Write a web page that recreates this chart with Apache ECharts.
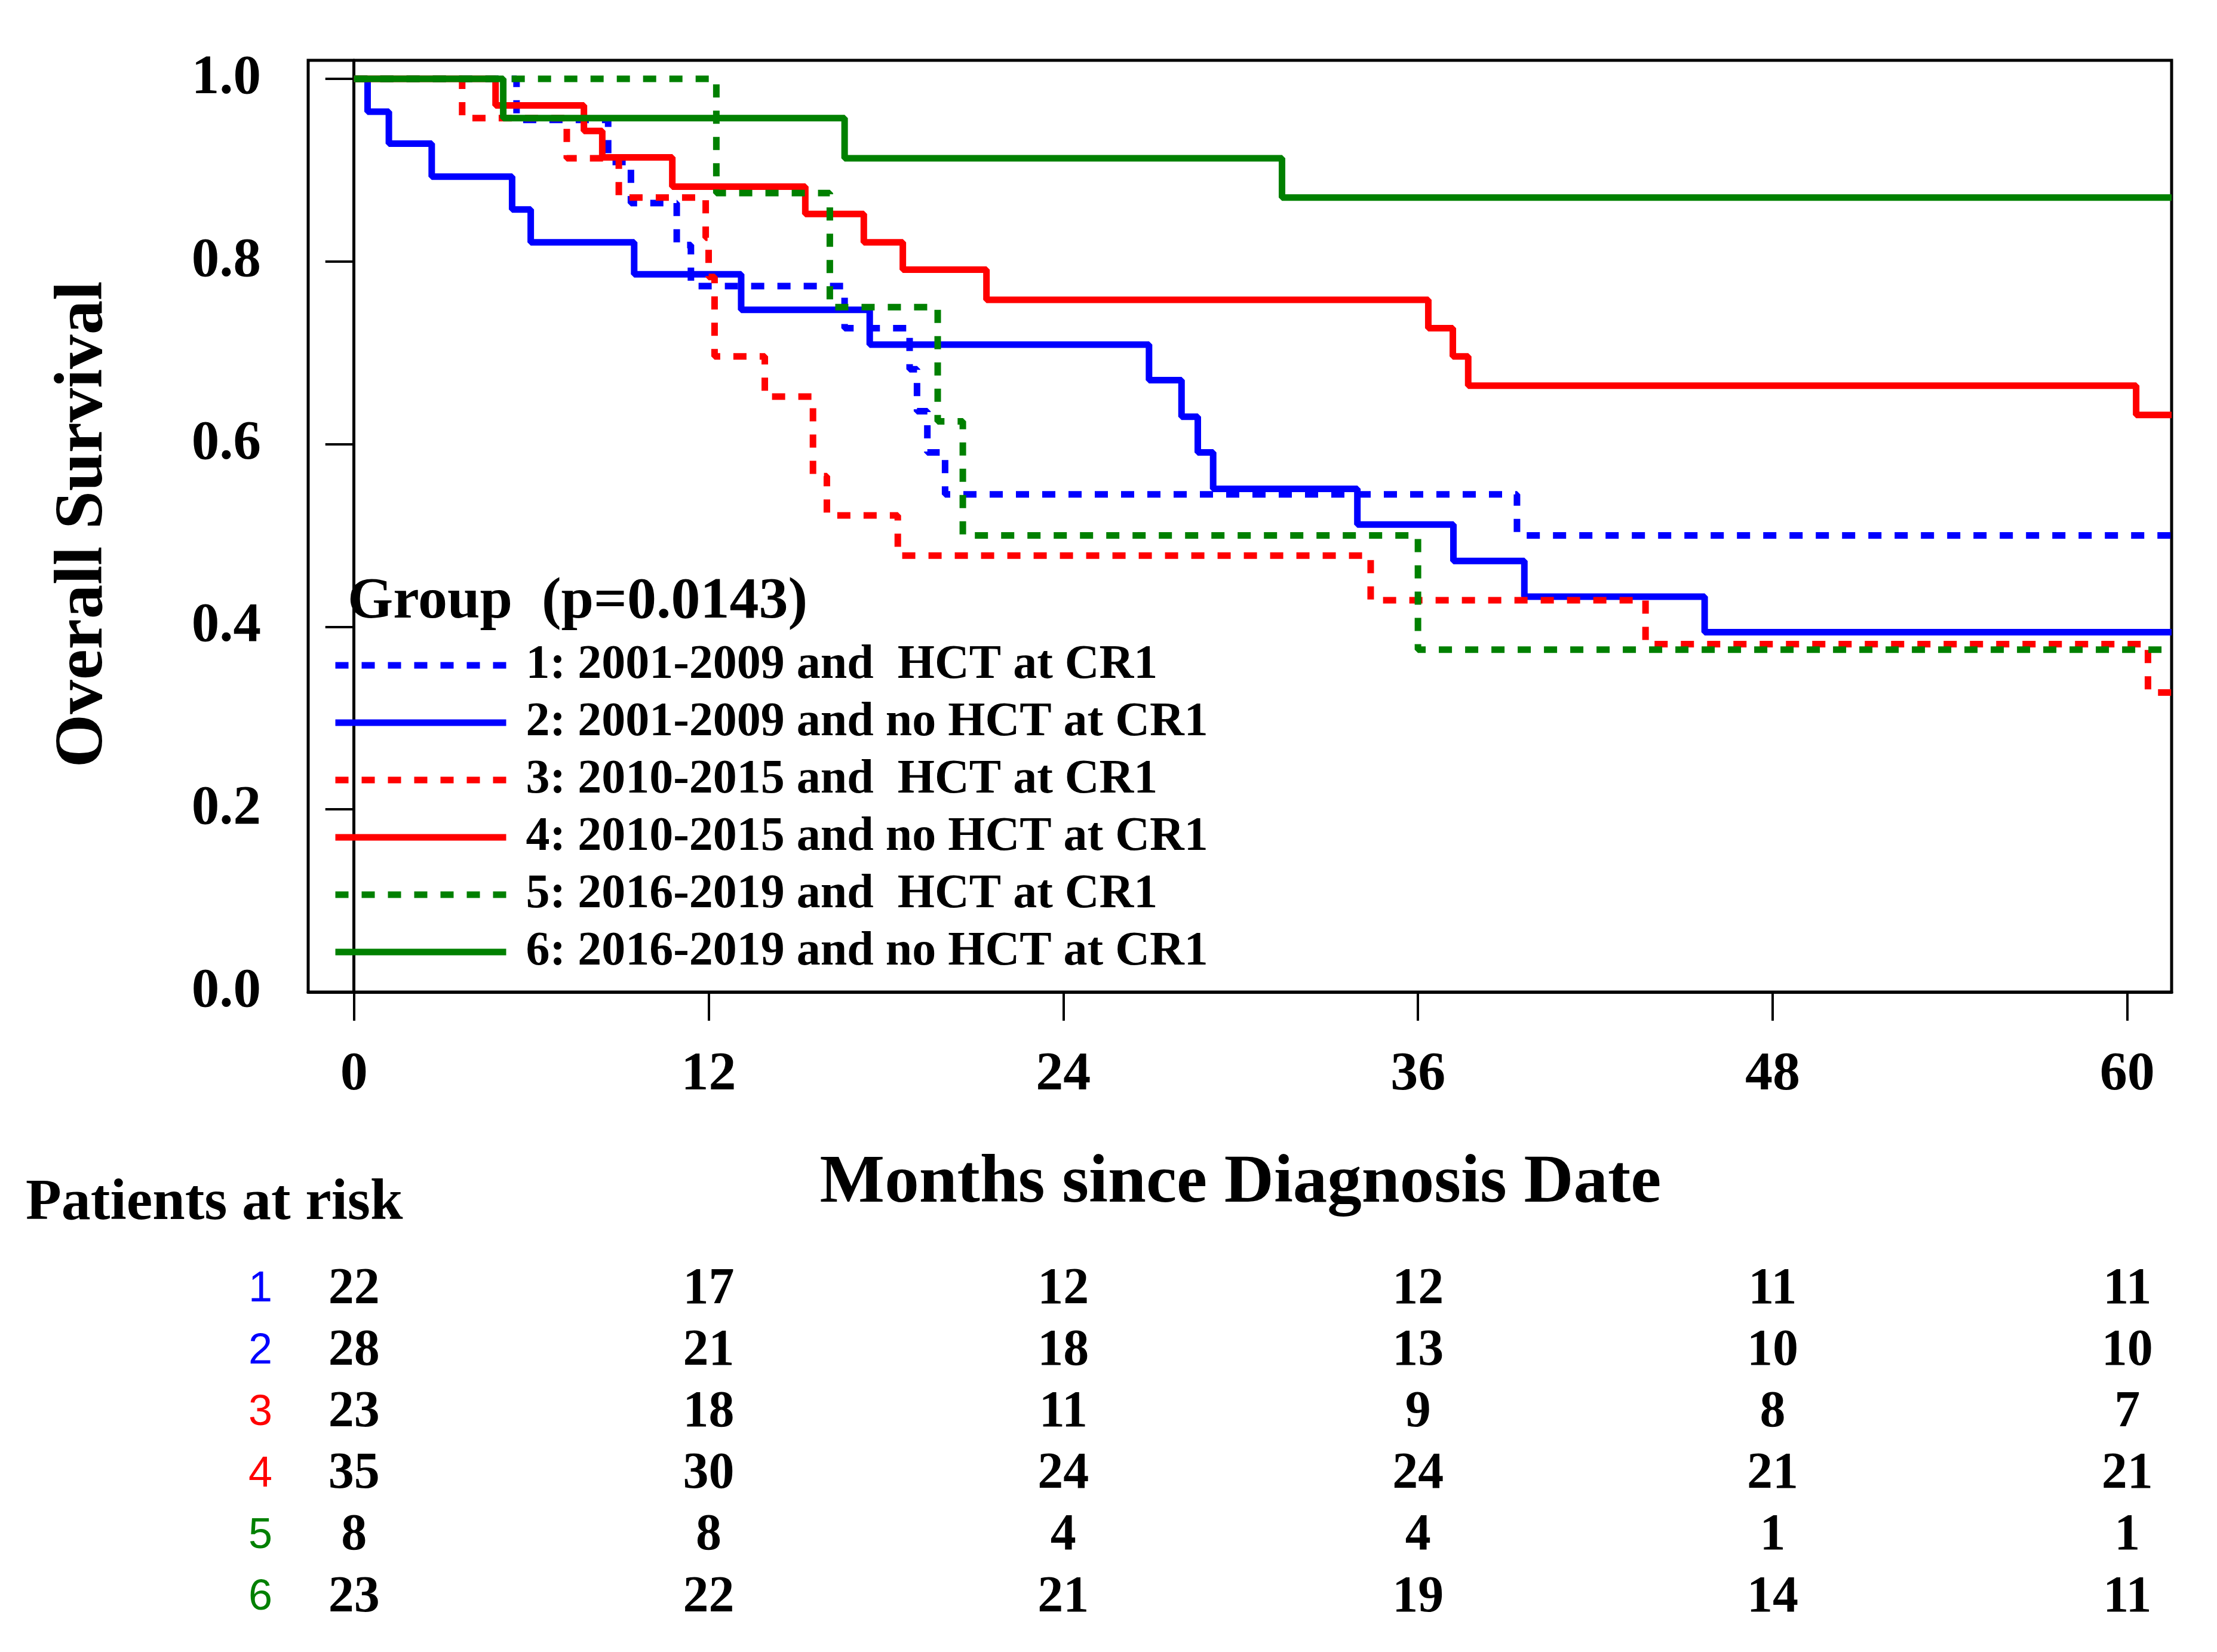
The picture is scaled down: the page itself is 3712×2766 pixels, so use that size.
<!DOCTYPE html>
<html><head><meta charset="utf-8">
<script src="https://cdn.jsdelivr.net/npm/echarts@6/dist/echarts.min.js"></script>
<style>html,body{margin:0;padding:0;background:#fff}#c{width:3712px;height:2766px}</style>
</head><body><div id="c"></div>
<script>
// ---------- data ----------
const groupNames = [
  '1: 2001-2009 and  HCT at CR1',
  '2: 2001-2009 and no HCT at CR1',
  '3: 2010-2015 and  HCT at CR1',
  '4: 2010-2015 and no HCT at CR1',
  '5: 2016-2019 and  HCT at CR1',
  '6: 2016-2019 and no HCT at CR1'
];
const groupColors = ['#0000FF', '#0000FF', '#FF0000', '#FF0000', '#008000', '#008000'];
const groupDashed = [true, false, true, false, true, false];

// months at which survival changes, and survival from that month on
const time1 = [0, 5.5, 8.6, 9.37, 10.92, 11.4, 16.6, 18.8, 19.05, 19.4, 20.0, 39.35, 61.5];
const surv1 = [1, 0.955, 0.909, 0.864, 0.818, 0.773, 0.727, 0.682, 0.636, 0.591, 0.545, 0.500, 0.500];

const time2 = [0, 0.46, 1.18, 2.63, 5.35, 5.98, 9.48, 13.1, 17.45, 26.9, 28.0, 28.55, 29.07, 33.95, 37.2, 39.6, 45.7, 61.5];
const surv2 = [1, 0.964, 0.929, 0.893, 0.857, 0.821, 0.786, 0.747, 0.709, 0.670, 0.630, 0.591, 0.551, 0.512, 0.472, 0.433, 0.394, 0.394];

const time3 = [0, 3.66, 7.2, 8.96, 11.9, 12.0, 12.2, 13.9, 15.53, 16.0, 18.4, 34.4, 43.7, 60.7, 61.5];
const surv3 = [1, 0.957, 0.913, 0.870, 0.826, 0.783, 0.696, 0.652, 0.565, 0.522, 0.478, 0.429, 0.381, 0.328, 0.328];

const time4 = [0, 4.79, 7.78, 8.4, 10.77, 15.27, 17.25, 18.57, 21.4, 36.35, 37.18, 37.7, 60.3, 61.5];
const surv4 = [1, 0.971, 0.943, 0.914, 0.882, 0.852, 0.821, 0.791, 0.758, 0.727, 0.696, 0.664, 0.632, 0.632];

const time5 = [0, 12.26, 16.1, 19.75, 20.6, 36.0, 61.5];
const surv5 = [1, 0.875, 0.750, 0.625, 0.500, 0.375, 0.375];

const time6 = [0, 5.05, 16.6, 31.4, 61.5];
const surv6 = [1, 0.957, 0.913, 0.870, 0.870];

const xTicks = [0, 12, 24, 36, 48, 60];
const yTicks = [0, 0.2, 0.4, 0.6, 0.8, 1.0];

// patients at risk
const riskTimes = [0, 12, 24, 36, 48, 60];
const riskRows = ['1', '2', '3', '4', '5', '6'];
const risk1 = [22, 17, 12, 12, 11, 11];
const risk2 = [28, 21, 18, 13, 10, 10];
const risk3 = [23, 18, 11, 9, 8, 7];
const risk4 = [35, 30, 24, 24, 21, 21];
const risk5 = [8, 8, 4, 4, 1, 1];
const risk6 = [23, 22, 21, 19, 14, 11];

// ---------- chart ----------
const times = [time1, time2, time3, time4, time5, time6];
const survs = [surv1, surv2, surv3, surv4, surv5, surv6];
const risks = [risk1, risk2, risk3, risk4, risk5, risk6];
const SERIF = '"Liberation Serif", "Times New Roman", serif';

const kmSeries = groupNames.map((name, i) => ({
  name: name,
  type: 'line',
  xAxisIndex: 0, yAxisIndex: 0,
  step: 'end',
  symbol: 'none',
  showSymbol: false,
  animation: false,
  color: groupColors[i],
  lineStyle: {
    color: groupColors[i],
    width: 11,
    type: groupDashed[i] ? [22, 22] : 'solid',
    cap: 'butt'
  },
  data: times[i].map((t, k) => [t, survs[i][k]]),
  z: 2 + i
}));

const riskData = [];
risks.forEach((row, r) => row.forEach((v, j) => riskData.push([riskTimes[j], r, v])));

const riskSeries = {
  type: 'scatter',
  xAxisIndex: 1, yAxisIndex: 1,
  symbolSize: 1,
  itemStyle: { color: 'rgba(0,0,0,0)', opacity: 1 },
  animation: false,
  silent: true,
  label: {
    show: true, position: 'inside',
    formatter: p => String(p.value[2]),
    color: '#000', opacity: 1, textBorderWidth: 0,
    fontFamily: SERIF, fontWeight: 'bold', fontSize: 86
  },
  data: riskData
};

const chart = echarts.init(document.getElementById('c'), null, { renderer: 'canvas' });
chart.setOption({
  backgroundColor: '#fff',
  animation: false,
  grid: [
    { left: 516, right: 76, top: 101, bottom: 1105, show: true, borderColor: '#000', borderWidth: 5, backgroundColor: 'transparent' },
    { left: 516, right: 76, top: 2108, height: 619, show: false }
  ],
  xAxis: [
    {
      type: 'value', gridIndex: 0, min: -1.55, max: 61.5,
      axisLine: { show: true, onZero: false, lineStyle: { color: '#000', width: 5 } },
      axisTick: { show: true, inside: false, length: 48, customValues: xTicks, lineStyle: { color: '#000', width: 4 } },
      axisLabel: { show: true, customValues: xTicks, margin: 93, color: '#000', fontFamily: SERIF, fontWeight: 'bold', fontSize: 92 },
      splitLine: { show: false }
    },
    {
      type: 'value', gridIndex: 1, min: -1.55, max: 61.5, show: false
    }
  ],
  yAxis: [
    {
      type: 'value', gridIndex: 0, min: 0, max: 1.0203,
      axisLine: { show: true, lineStyle: { color: '#000', width: 5 } },
      axisTick: { show: true, inside: false, length: 48, customValues: yTicks, lineStyle: { color: '#000', width: 4 } },
      axisLabel: { show: true, customValues: yTicks, margin: 79, formatter: v => v.toFixed(1), color: '#000', fontFamily: SERIF, fontWeight: 'bold', fontSize: 93 },
      splitLine: { show: false }
    },
    {
      type: 'category', gridIndex: 1, data: riskRows, inverse: true,
      axisLine: { show: false }, axisTick: { show: false }, splitLine: { show: false },
      axisLabel: {
        show: true, margin: 80, align: 'center',
        color: (v, idx) => groupColors[riskRows.indexOf(v)],
        fontFamily: '"Liberation Sans", Arial, sans-serif', fontSize: 72
      }
    }
  ],
  legend: {
    orient: 'vertical', left: 556, top: 1073, padding: 0,
    itemWidth: 286, itemHeight: 30, itemGap: 14,
    selectedMode: false,
    lineStyle: { width: 11 },
    itemStyle: { opacity: 0 },
    textStyle: { color: '#000', fontFamily: SERIF, fontWeight: 'bold', fontSize: 80, lineHeight: 82, padding: [0, 0, 0, 28] },
    data: groupNames
  },
  graphic: [
    { type: 'text', x: 582, y: 1009, style: { text: 'Group  (p=0.0143)', fontFamily: SERIF, fontWeight: 'bold', fontSize: 98, fill: '#000', align: 'left', verticalAlign: 'middle' } },
    { type: 'text', x: 140, y: 878, rotation: Math.PI / 2, style: { text: 'Overall Survival', fontFamily: SERIF, fontWeight: 'bold', fontSize: 115, fill: '#000', align: 'center', verticalAlign: 'middle' } },
    { type: 'text', x: 2077, y: 1982, style: { text: 'Months since Diagnosis Date', fontFamily: SERIF, fontWeight: 'bold', fontSize: 115, fill: '#000', align: 'center', verticalAlign: 'middle' } },
    { type: 'text', x: 43, y: 2016, style: { text: 'Patients at risk', fontFamily: SERIF, fontWeight: 'bold', fontSize: 98, fill: '#000', align: 'left', verticalAlign: 'middle' } }
  ],
  series: kmSeries.concat([riskSeries])
});
</script>
</body></html>
